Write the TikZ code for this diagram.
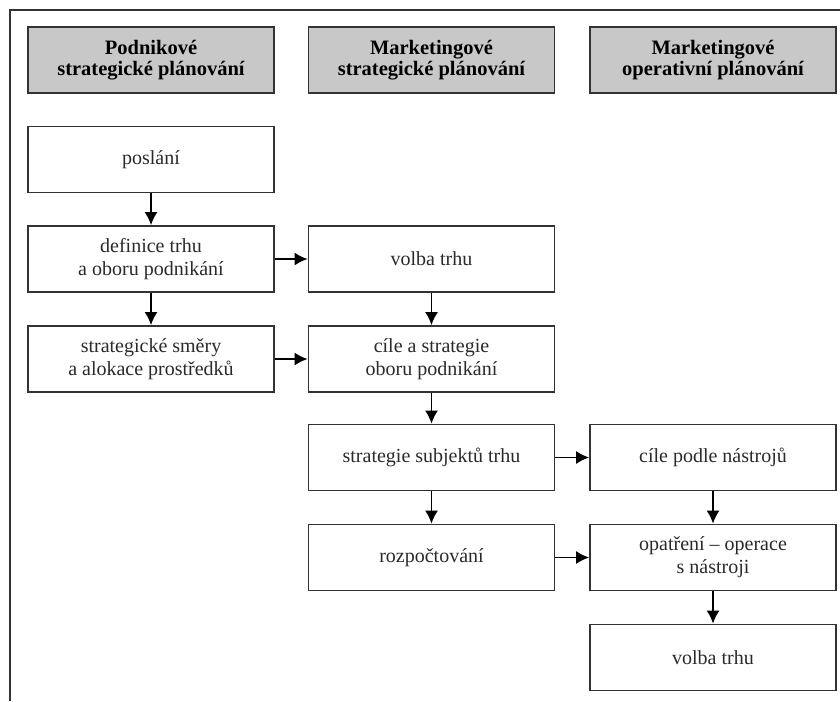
\documentclass[tikz,border=0pt]{standalone}
\usepackage{fontspec}
\setmainfont{Liberation Serif}
\usetikzlibrary{arrows.meta}
\definecolor{hdrfill}{HTML}{C8C8C8}
\definecolor{linec}{HTML}{333333}
\definecolor{txtc}{HTML}{2A2A2A}
\begin{document}
\begin{tikzpicture}[x=1pt,y=-1pt,
  box/.style={draw=linec,line width=1.8pt,fill=white,minimum width=246pt,minimum height=66pt,
    inner sep=0pt,align=center,text=txtc,font=\fontsize{20}{23}\selectfont},
  hdr/.style={box,fill=hdrfill,text=black,font=\fontsize{20.5}{21.5}\selectfont\bfseries},
  arr/.style={draw=black,line width=1.6pt,-{Latex[length=13pt,width=13pt]}}]
\useasboundingbox (0,0) rectangle (840,701);
\draw[linec,line width=1.8pt] (10,701) -- (10,10) -- (840,10);
% headers
\node[hdr] (h1) at (151,60) {Podnikové\\strategické plánování};
\node[hdr] (h2) at (431.5,60) {Marketingové\\strategické plánování};
\node[hdr] (h3) at (713,60) {Marketingové\\operativní plánování};
% column 1
\node[box] (a1) at (151,159.5) {poslání};
\node[box] (a2) at (151,259) {definice trhu\\a oboru podnikání};
\node[box] (a3) at (151,359) {strategické směry\\a alokace prostředků};
% column 2
\node[box] (b1) at (431.5,259) {volba trhu};
\node[box] (b2) at (431.5,359) {cíle a strategie\\oboru podnikání};
\node[box] (b3) at (431.5,457.5) {strategie subjektů trhu};
\node[box] (b4) at (431.5,557.5) {rozpočtování};
% column 3
\node[box] (c1) at (713,457.5) {cíle podle nástrojů};
\node[box] (c2) at (713,557.5) {opatření – operace\\s nástroji};
\node[box] (c3) at (713,657.5) {volba trhu};
% arrows
\draw[arr] (a1) -- (a2);
\draw[arr] (a2) -- (a3);
\draw[arr] (a2) -- (b1);
\draw[arr] (a3) -- (b2);
\draw[arr] (b1) -- (b2);
\draw[arr] (b2) -- (b3);
\draw[arr] (b3) -- (b4);
\draw[arr] (b3) -- (c1);
\draw[arr] (b4) -- (c2);
\draw[arr] (c1) -- (c2);
\draw[arr] (c2) -- (c3);
\end{tikzpicture}
\end{document}
